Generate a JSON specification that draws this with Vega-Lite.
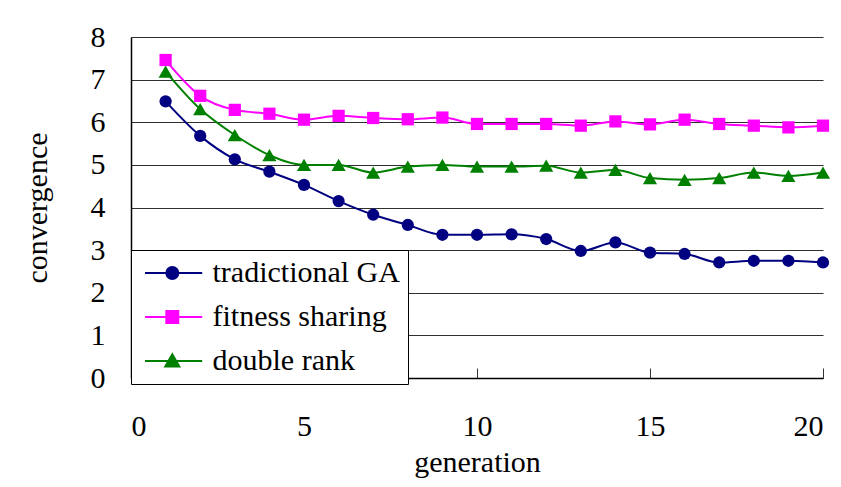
{
  "$schema": "https://vega.github.io/schema/vega-lite/v6.json",
  "width": 692,
  "height": 341,
  "autosize": {"type": "none"},
  "padding": {"left": 131, "top": 37, "right": 18, "bottom": 109},
  "background": "white",
  "config": {
    "view": {"stroke": null},
    "font": "Liberation Serif",
    "axis": {
      "labelFont": "Liberation Serif",
      "titleFont": "Liberation Serif",
      "labelFontSize": 30,
      "titleFontSize": 30,
      "titleFontWeight": "normal",
      "labelColor": "black",
      "titleColor": "black",
      "domainColor": "black",
      "tickColor": "#333333"
    },
    "legend": {
      "labelFont": "Liberation Serif",
      "labelFontSize": 30,
      "labelColor": "black",
      "labelLimit": 0
    }
  },
  "data": {
    "values": [
      {"generation": 1, "series": "tradictional GA", "value": 6.49},
      {"generation": 2, "series": "tradictional GA", "value": 5.68},
      {"generation": 3, "series": "tradictional GA", "value": 5.13},
      {"generation": 4, "series": "tradictional GA", "value": 4.84},
      {"generation": 5, "series": "tradictional GA", "value": 4.53},
      {"generation": 6, "series": "tradictional GA", "value": 4.15},
      {"generation": 7, "series": "tradictional GA", "value": 3.83},
      {"generation": 8, "series": "tradictional GA", "value": 3.59},
      {"generation": 9, "series": "tradictional GA", "value": 3.36},
      {"generation": 10, "series": "tradictional GA", "value": 3.36},
      {"generation": 11, "series": "tradictional GA", "value": 3.37},
      {"generation": 12, "series": "tradictional GA", "value": 3.26},
      {"generation": 13, "series": "tradictional GA", "value": 2.98},
      {"generation": 14, "series": "tradictional GA", "value": 3.18},
      {"generation": 15, "series": "tradictional GA", "value": 2.94},
      {"generation": 16, "series": "tradictional GA", "value": 2.91},
      {"generation": 17, "series": "tradictional GA", "value": 2.71},
      {"generation": 18, "series": "tradictional GA", "value": 2.75},
      {"generation": 19, "series": "tradictional GA", "value": 2.75},
      {"generation": 20, "series": "tradictional GA", "value": 2.71},
      {"generation": 1, "series": "fitness sharing", "value": 7.46},
      {"generation": 2, "series": "fitness sharing", "value": 6.62},
      {"generation": 3, "series": "fitness sharing", "value": 6.29},
      {"generation": 4, "series": "fitness sharing", "value": 6.2},
      {"generation": 5, "series": "fitness sharing", "value": 6.06},
      {"generation": 6, "series": "fitness sharing", "value": 6.15},
      {"generation": 7, "series": "fitness sharing", "value": 6.1},
      {"generation": 8, "series": "fitness sharing", "value": 6.07},
      {"generation": 9, "series": "fitness sharing", "value": 6.11},
      {"generation": 10, "series": "fitness sharing", "value": 5.96},
      {"generation": 11, "series": "fitness sharing", "value": 5.96},
      {"generation": 12, "series": "fitness sharing", "value": 5.96},
      {"generation": 13, "series": "fitness sharing", "value": 5.92},
      {"generation": 14, "series": "fitness sharing", "value": 6.02},
      {"generation": 15, "series": "fitness sharing", "value": 5.95},
      {"generation": 16, "series": "fitness sharing", "value": 6.06},
      {"generation": 17, "series": "fitness sharing", "value": 5.96},
      {"generation": 18, "series": "fitness sharing", "value": 5.92},
      {"generation": 19, "series": "fitness sharing", "value": 5.88},
      {"generation": 20, "series": "fitness sharing", "value": 5.92},
      {"generation": 1, "series": "double rank", "value": 7.19},
      {"generation": 2, "series": "double rank", "value": 6.31},
      {"generation": 3, "series": "double rank", "value": 5.7},
      {"generation": 4, "series": "double rank", "value": 5.23},
      {"generation": 5, "series": "double rank", "value": 5.0},
      {"generation": 6, "series": "double rank", "value": 5.0},
      {"generation": 7, "series": "double rank", "value": 4.82},
      {"generation": 8, "series": "double rank", "value": 4.96},
      {"generation": 9, "series": "double rank", "value": 5.0},
      {"generation": 10, "series": "double rank", "value": 4.96},
      {"generation": 11, "series": "double rank", "value": 4.96},
      {"generation": 12, "series": "double rank", "value": 4.98},
      {"generation": 13, "series": "double rank", "value": 4.82},
      {"generation": 14, "series": "double rank", "value": 4.88},
      {"generation": 15, "series": "double rank", "value": 4.69},
      {"generation": 16, "series": "double rank", "value": 4.65},
      {"generation": 17, "series": "double rank", "value": 4.69},
      {"generation": 18, "series": "double rank", "value": 4.82},
      {"generation": 19, "series": "double rank", "value": 4.74},
      {"generation": 20, "series": "double rank", "value": 4.82}
    ]
  },
  "encoding": {
    "x": {
      "field": "generation",
      "type": "quantitative",
      "scale": {"domain": [0, 20], "nice": false},
      "axis": {
        "values": [0, 5, 10, 15, 20],
        "grid": false,
        "title": "generation",
        "tickSize": -10,
        "labelPadding": 43,
        "titlePadding": 6,
        "domainWidth": 1.5
      }
    },
    "y": {
      "field": "value",
      "type": "quantitative",
      "scale": {"domain": [0, 8], "nice": false},
      "axis": {
        "values": [0, 1, 2, 3, 4, 5, 6, 7, 8],
        "grid": true,
        "gridColor": "#303030",
        "gridOpacity": 1,
        "gridWidth": 1,
        "title": "convergence",
        "tickSize": 0,
        "labelPadding": 26,
        "titlePadding": 38,
        "domainWidth": 1.5
      }
    },
    "color": {
      "field": "series",
      "type": "nominal",
      "scale": {
        "domain": ["tradictional GA", "fitness sharing", "double rank"],
        "range": ["#000080", "#ff00ff", "#008000"]
      },
      "legend": {
        "title": null,
        "orient": "none",
        "legendX": 0,
        "legendY": 213,
        "fillColor": "white",
        "strokeColor": "black",
        "padding": 8,
        "symbolOffset": -2.5,
        "symbolSize": 169,
        "symbolStrokeWidth": 2,
        "symbolOpacity": 1,
        "labelOffset": 46,
        "rowPadding": 14,
        "symbolType": {"expr": "datum.value === 'tradictional GA' ? 'M-1,0H7.8M2.28,0A0.92,0.92 0 1,0 4.12,0A0.92,0.92 0 1,0 2.28,0' : datum.value === 'fitness sharing' ? 'M-1,0H7.8M2.28,-0.92H4.12V0.92H2.28Z' : 'M-1,0H7.8M3.2,-1.05L4.28,0.85L2.12,0.85Z'"}
      }
    }
  },
  "layer": [
    {
      "mark": {"type": "line", "strokeWidth": 2, "interpolate": "monotone"},
      "encoding": {"detail": {"field": "series", "type": "nominal"}}
    },
    {
      "transform": [{"filter": "datum.series === 'tradictional GA'"}],
      "mark": {"type": "point", "filled": true, "opacity": 1, "shape": "circle", "size": 150}
    },
    {
      "transform": [{"filter": "datum.series === 'fitness sharing'"}],
      "mark": {"type": "point", "filled": true, "opacity": 1, "shape": "square", "size": 150}
    },
    {
      "transform": [{"filter": "datum.series === 'double rank'"}],
      "mark": {"type": "point", "filled": true, "opacity": 1, "shape": "triangle-up", "size": 200}
    }
  ]
}
